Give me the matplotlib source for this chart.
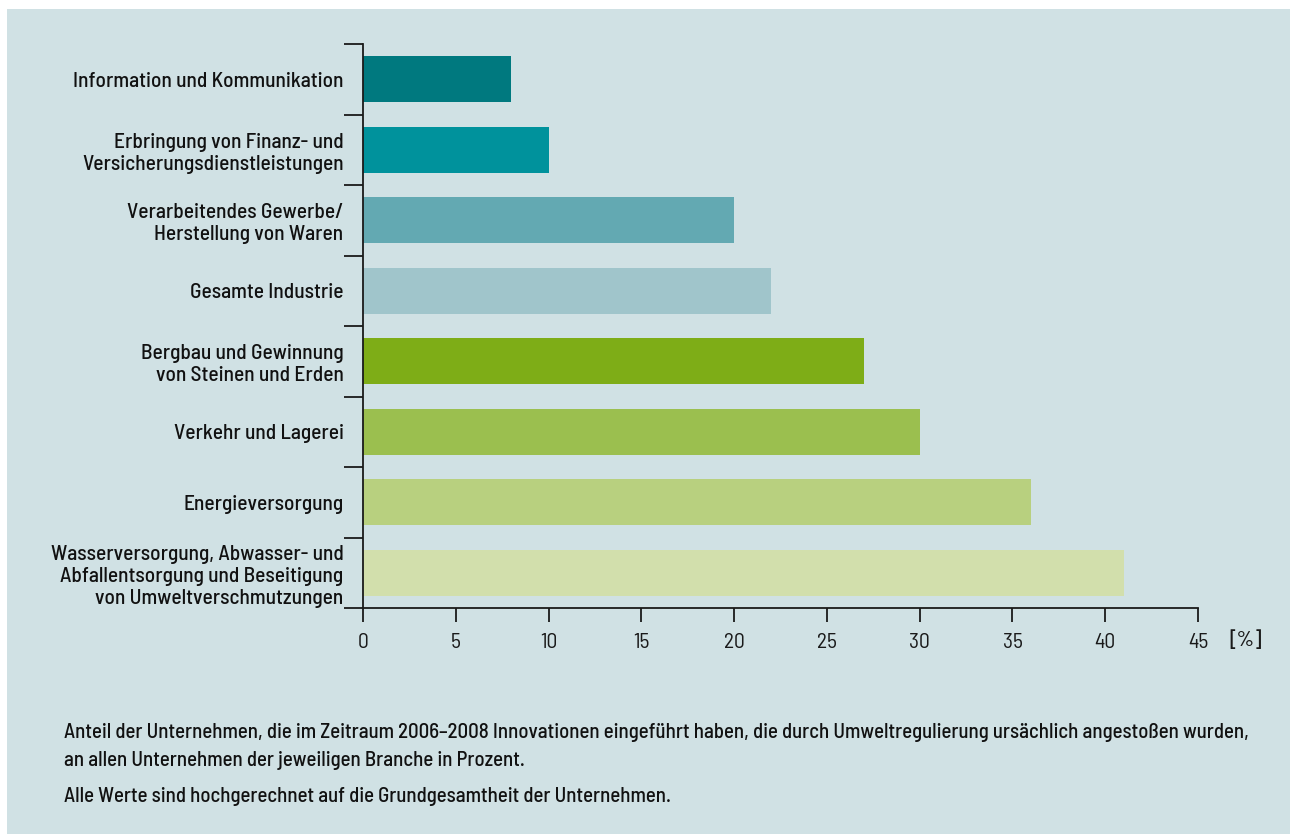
import matplotlib
matplotlib.use("Agg")
import matplotlib.pyplot as plt
from matplotlib.patches import Rectangle
import numpy as np

plt.rcParams['font.family'] = ['Barlow Semi Condensed', 'DejaVu Sans']

branchen = [
    "Information und Kommunikation",
    "Erbringung von Finanz- und\nVersicherungsdienstleistungen",
    "Verarbeitendes Gewerbe/\nHerstellung von Waren",
    "Gesamte Industrie",
    "Bergbau und Gewinnung\nvon Steinen und Erden",
    "Verkehr und Lagerei",
    "Energieversorgung",
    "Wasserversorgung, Abwasser- und\nAbfallentsorgung und Beseitigung\nvon Umweltverschmutzungen",
]
anteil = [8, 10, 20, 22, 27, 30, 36, 41]
farben = ["#00797f", "#00929c", "#63a9b2", "#a0c5cb",
          "#7ead17", "#9bbf4f", "#b8d07f", "#d2dfac"]
xticks = [0, 5, 10, 15, 20, 25, 30, 35, 40, 45]

bg = "#d0e1e4"
fig = plt.figure(figsize=(12.9, 8.34), dpi=100, facecolor="white")
fig.patches.append(Rectangle((7/1290, 0), 1, 1 - 9/834, transform=fig.transFigure,
                             facecolor=bg, edgecolor="none", zorder=-1))

ax = fig.add_axes([363/1290, 1 - 608/834, 835/1290, 564/834])
ax.set_facecolor("none")

y = np.arange(len(branchen))
ax.barh(y, anteil, height=0.65, color=farben, zorder=2)
ax.set_ylim(len(branchen) - 0.5, -0.5)
ax.set_xlim(0, 45)

for s in ["top", "right"]:
    ax.spines[s].set_visible(False)
for s in ["left", "bottom"]:
    ax.spines[s].set_linewidth(1.3)
    ax.spines[s].set_color("#1a1a1a")

ax.set_xticks(xticks)
ax.set_xticklabels([str(t) for t in xticks], fontsize=15.5, color="#1a1a1a")
ax.tick_params(axis="x", length=10, width=1.3, pad=8, color="#1a1a1a")

# Kategorienamen ohne Strich, Striche an den Grenzen zwischen den Balken
ax.set_yticks(y)
ax.set_yticklabels(branchen, fontsize=15.4, fontweight=500, linespacing=1.2,
                   color="#111111")
ax.tick_params(axis="y", length=0, pad=14)
ax.set_yticks(np.arange(len(branchen) + 1) - 0.5, minor=True)
ax.tick_params(axis="y", which="minor", length=14, width=1.3, color="#1a1a1a")

fig.text(1229/1290, 1 - 640/834, "[%]", fontsize=15.5, fontweight=500,
         va="center", ha="left", color="#1a1a1a")

notiz = [
    ("Anteil der Unternehmen, die im Zeitraum 2006–2008 Innovationen eingeführt haben, "
     "die durch Umweltregulierung ursächlich angestoßen wurden,", 732),
    ("an allen Unternehmen der jeweiligen Branche in Prozent.", 760),
    ("Alle Werte sind hochgerechnet auf die Grundgesamtheit der Unternehmen.", 796),
]
for txt, ypx in notiz:
    fig.text(64/1290, 1 - ypx/834, txt, fontsize=15, fontweight=500,
             va="center", ha="left", color="#111111")

fig.savefig("out.png", dpi=100, facecolor="white")
